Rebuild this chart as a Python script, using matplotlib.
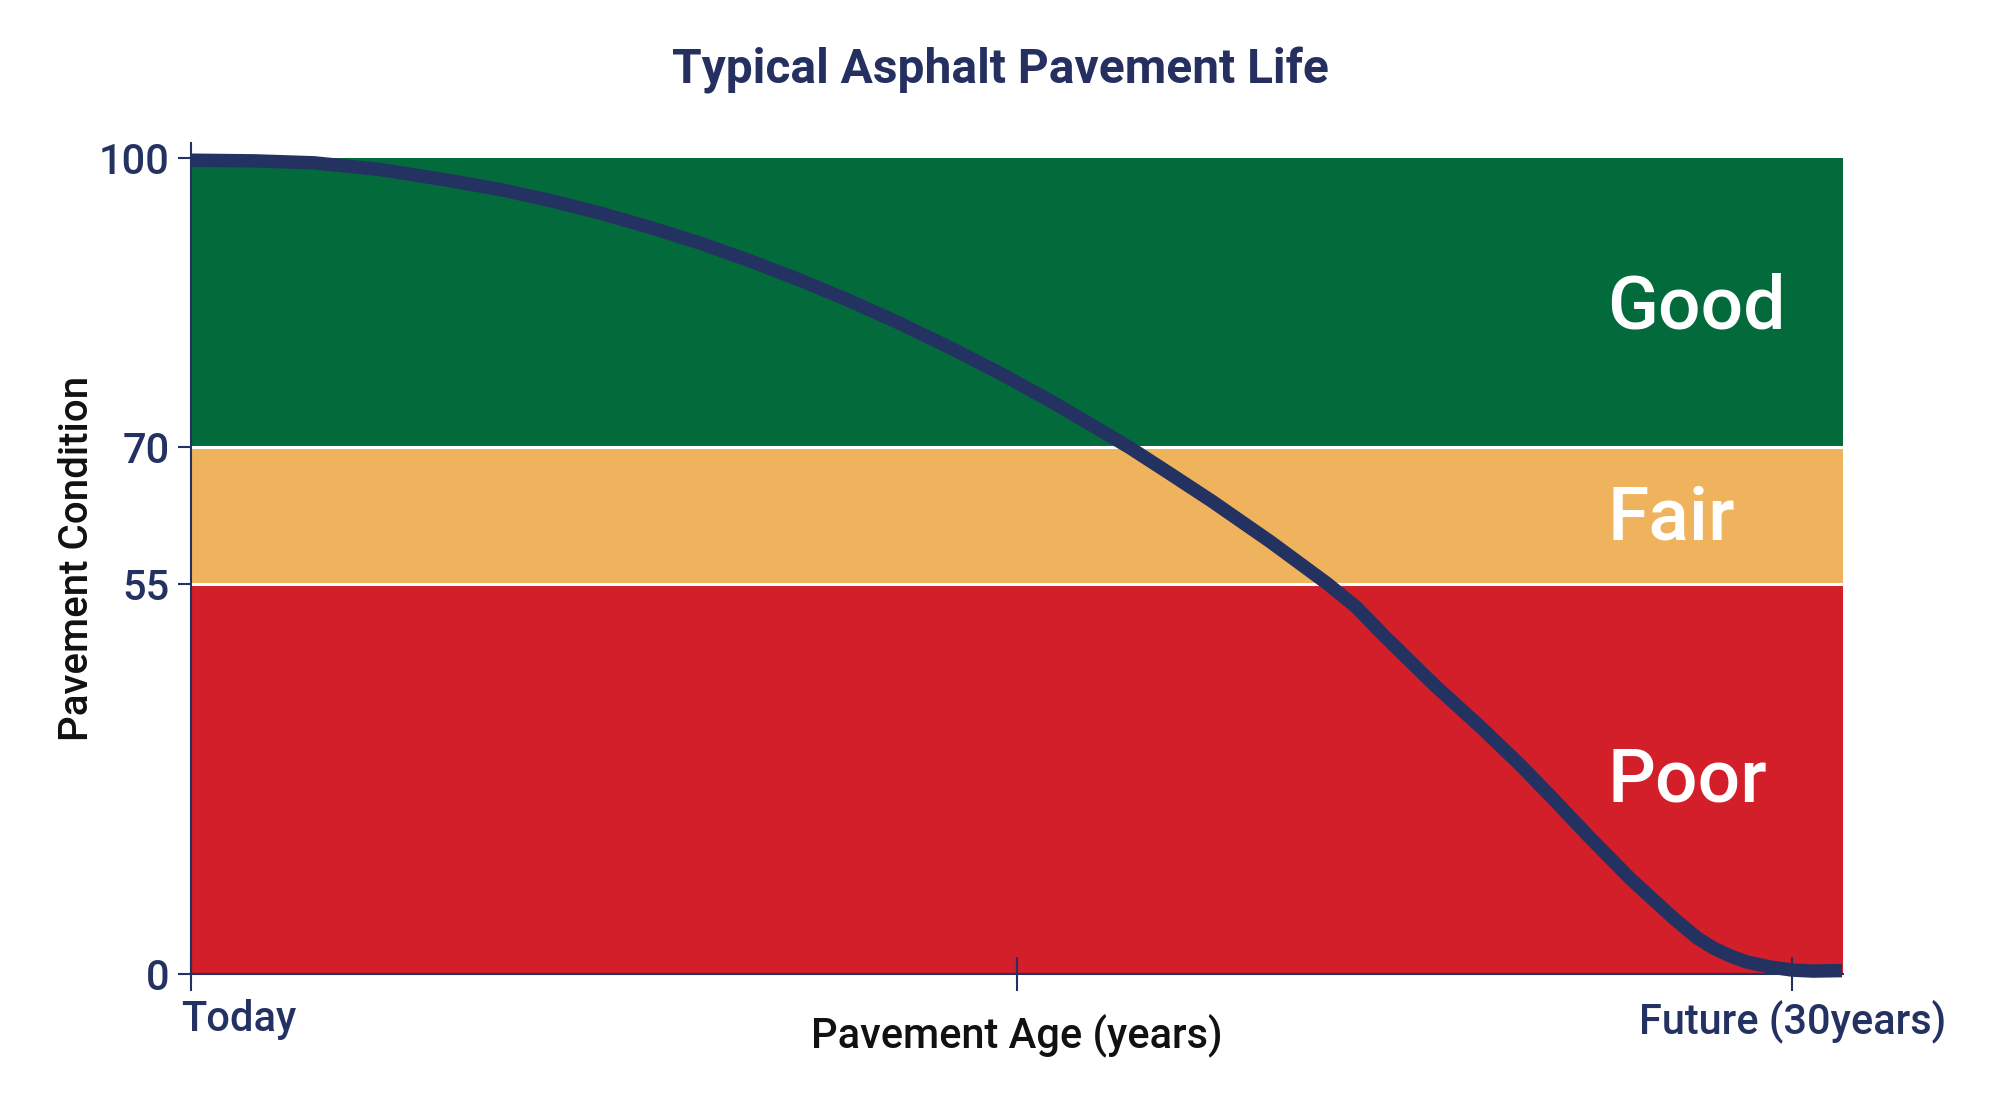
import numpy as np
import matplotlib
matplotlib.use('Agg')
import matplotlib.pyplot as plt
from matplotlib.ticker import NullLocator
from matplotlib.transforms import ScaledTranslation

plt.rcParams['font.family'] = ['Roboto', 'DejaVu Sans']
plt.rcParams['font.weight'] = 'medium'
plt.rcParams['axes.labelweight'] = 'medium'

# pavement condition curve
age_years = [0.0, 1.2, 2.3, 3.54, 4.81, 5.79, 6.73, 7.66, 8.6, 9.54,
             10.47, 11.41, 12.35, 13.28, 14.22, 15.16, 16.1, 17.03, 17.58, 18.34,
             19.13, 20.22, 21.28, 21.83, 22.37, 23.31, 24.15, 24.9, 25.52, 26.16,
             26.96, 27.77, 28.22, 28.52, 28.84, 29.15, 29.59, 30.0, 30.39, 30.93]
condition = [99.72, 99.65, 99.45, 98.76, 97.65, 96.69, 95.55, 94.25, 92.77, 91.13,
             89.31, 87.31, 85.15, 82.83, 80.32, 77.66, 74.81, 71.8, 70.0, 67.11,
             64.07, 59.63, 55.05, 51.71, 47.53, 40.62, 34.88, 29.48, 24.68, 19.6,
             13.47, 7.9, 5.08, 3.67, 2.54, 1.69, 0.99, 0.56, 0.42, 0.49]

band_names = ['Poor', 'Fair', 'Good']
band_lower = [0, 55, 70]
band_upper = [55, 70, 100]
band_colors = ['#D21F29', '#F0B35D', '#036B3B']
label_y = [24.3, 59.9, 82.3]

y_ticks = [0, 55, 70, 100]
x_ticks = [0, 15.48, 30]
x_ticklabels = ['Today', '', 'Future (30years)']

navy = '#243262'

# the original axis is not evenly spaced between the thresholds
scale_cond = [-50, 0, 55, 70, 100, 150]
scale_pos = [-43.4, 0, 47.8, 64.5, 100, 159.2]

def fwd(v):
    return np.interp(v, scale_cond, scale_pos)

def inv(v):
    return np.interp(v, scale_pos, scale_cond)

fig = plt.figure(figsize=(20, 11), dpi=100)
ax = fig.add_axes([0.0955, 0.1145, 0.826, 0.7555])
ax.set_yscale('function', functions=(fwd, inv))
ax.set_xlim(0, 30.95)
ax.set_ylim(0, 101.5)

for lo, hi, c in zip(band_lower, band_upper, band_colors):
    ax.axhspan(lo, hi, color=c, lw=0, zorder=1)
for b in band_lower[1:]:
    ax.axhline(b, color='white', lw=2.2, zorder=1.5)

for name, y in zip(band_names, label_y):
    ax.text(26.53, y, name, color='white', fontsize=54, va='baseline', ha='left', zorder=3)

ax.plot(age_years, condition, color=navy, lw=9.7, solid_capstyle='butt',
        solid_joinstyle='round', clip_on=False, zorder=4)

for s in ['top', 'right']:
    ax.spines[s].set_visible(False)
for s in ['left', 'bottom']:
    ax.spines[s].set_color(navy)
    ax.spines[s].set_linewidth(1.5)

ax.set_yticks(y_ticks)
ax.set_yticklabels([str(t) for t in y_ticks])
ax.yaxis.set_minor_locator(NullLocator())
ax.set_xticks(x_ticks)
ax.set_xticklabels(x_ticklabels)
ax.tick_params(axis='y', direction='out', length=9.5, width=1.5, color=navy,
               labelsize=30, labelcolor=navy, pad=6)
ax.tick_params(axis='x', direction='inout', length=24, width=1.5, color=navy,
               labelsize=30, labelcolor=navy, pad=6)

lbl = ax.get_xticklabels()[0]
lbl.set_ha('left')
lbl.set_transform(lbl.get_transform() + ScaledTranslation(-0.1, 0, fig.dpi_scale_trans))

ax.set_xlabel('Pavement Age (years)', fontsize=30, color='#111111')
ax.xaxis.set_label_coords(0.5, -0.0878)
ax.xaxis.label.set_va('baseline')
ax.set_ylabel('Pavement Condition', fontsize=29, color='#111111')
ax.yaxis.set_label_coords(-0.0693, 0.5)
ax.yaxis.label.set_va('center')

fig.text(0.5, 1 - 83 / 1100, 'Typical Asphalt Pavement Life', ha='center',
         va='baseline', fontsize=34.5, fontweight='bold', color='#253060')

fig.savefig('out.png', dpi=100)
